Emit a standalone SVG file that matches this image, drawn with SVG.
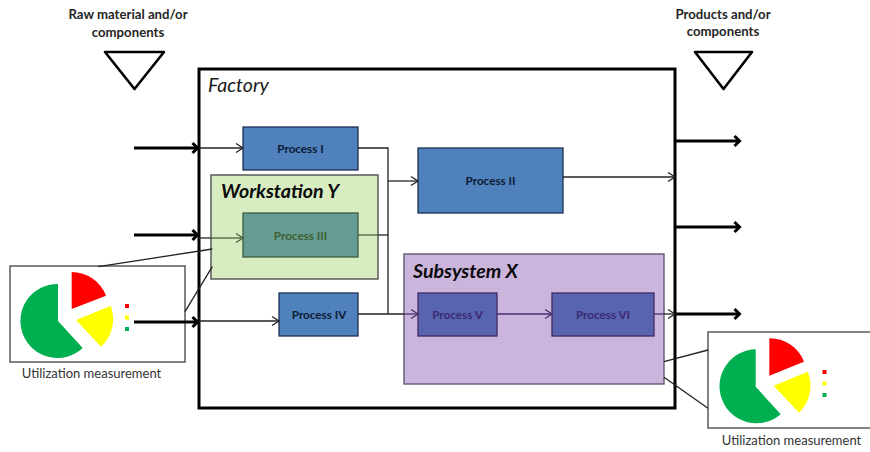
<svg xmlns="http://www.w3.org/2000/svg" width="870" height="452" viewBox="0 0 870 452">
<style>
text{font-family:Lato,"Liberation Sans",sans-serif;text-anchor:middle}
.proc{font-size:11.7px;font-weight:700;fill:#0d1b33}
.title{font-size:19.6px;font-weight:700;font-style:italic;fill:#0a0a0a;text-anchor:start}
.head{font-size:13.2px;font-weight:700;fill:#262626}
.cap{font-size:13px;fill:#333}
.box{fill:#4f81bd;stroke:#1c2f4f;stroke-width:1.3}
.box2{fill:#5964b0;stroke:#3c2a66;stroke-width:1.3}
.frame{fill:#fff;stroke:#404040;stroke-width:1.3}
.thin{fill:none;stroke:#222;stroke-width:1.3}
.olive{fill:none;stroke:#4a6240;stroke-width:1.3}
.plum{fill:none;stroke:#4a2f6b;stroke-width:1.3}
.thick{fill:none;stroke:#000;stroke-width:3}
.tri{fill:#fff;stroke:#000;stroke-width:2.6;stroke-linejoin:round}
</style>
<defs>
<marker id="a" markerUnits="userSpaceOnUse" markerWidth="12" markerHeight="12" refX="10" refY="6" orient="auto"><path d="M3 1.500 10 6 3 10.500" fill="none" stroke="#222" stroke-width="1.300"/></marker>
<marker id="ao" markerUnits="userSpaceOnUse" markerWidth="12" markerHeight="12" refX="10" refY="6" orient="auto"><path d="M3 1.500 10 6 3 10.500" fill="none" stroke="#4a6240" stroke-width="1.300"/></marker>
<marker id="ap" markerUnits="userSpaceOnUse" markerWidth="12" markerHeight="12" refX="10" refY="6" orient="auto"><path d="M3 1.500 10 6 3 10.500" fill="none" stroke="#4a2f6b" stroke-width="1.300"/></marker>
<marker id="t" markerUnits="userSpaceOnUse" markerWidth="14" markerHeight="16" refX="12" refY="8" orient="auto"><path d="M6.500 3 11.500 8 6.500 13" fill="none" stroke="#000" stroke-width="3"/></marker>
</defs>
<rect width="870" height="452" fill="#fff"/>
<g id="raw-material">
<text class="head" x="128" y="19">Raw material and/or</text>
<text class="head" x="128" y="37">components</text>
<path class="tri" d="M105 52H164L134.500 89Z"/>
</g>
<g id="products">
<text class="head" x="723" y="19">Products and/or</text>
<text class="head" x="723" y="36">components</text>
<path class="tri" d="M695 52H752L723.500 89Z"/>
</g>
<g id="factory">
<rect x="199" y="69" width="476" height="339" fill="#fff" stroke="#000" stroke-width="3"/>
<text x="208" y="92" font-size="19.500" font-style="italic" fill="#1a1a1a" style="text-anchor:start">Factory</text>
</g>
<g id="process-1">
<rect class="box" x="243" y="127" width="115" height="43"/>
<text class="proc" x="300.500" y="153">Process I</text>
</g>
<g id="workstation-y">
<rect x="211" y="175" width="167" height="104" fill="#d8ecc1" stroke="#4f4f4f" stroke-width="1.400"/>
<text class="title" x="221" y="198">Workstation Y</text>
</g>
<g id="process-3">
<rect x="243" y="213" width="115" height="44" fill="#659c93" stroke="#3e5c40" stroke-width="1.300"/>
<text class="proc" x="300.500" y="240" style="fill:#3f5f2f">Process III</text>
</g>
<g id="process-4">
<rect class="box" x="279" y="293" width="79" height="43"/>
<text class="proc" x="319" y="319">Process IV</text>
</g>
<g id="process-2">
<rect class="box" x="418" y="148" width="145" height="65"/>
<text class="proc" x="490.500" y="185">Process II</text>
</g>
<g id="subsystem-x">
<rect x="404" y="254" width="260" height="130" fill="#ccb5dd" stroke="#5f5a72" stroke-width="1.400"/>
<text class="title" x="413" y="278">Subsystem X</text>
</g>
<g id="process-5">
<rect class="box2" x="418" y="293" width="79" height="43"/>
<text class="proc" x="457.500" y="319" style="fill:#3a2a72">Process V</text>
</g>
<g id="process-6">
<rect class="box2" x="552" y="293" width="102" height="43"/>
<text class="proc" x="603" y="319" style="fill:#3a2a72">Process VI</text>
</g>
<g id="utilization-left">
<rect class="frame" x="10" y="266" width="175" height="96"/>
<path fill="#00b050" d="M58 321V284A37 37 0 1 0 82.700 348Z"/>
<path fill="#f00" d="M71.700 309V272A37 37 0 0 1 106 295.700Z"/>
<path fill="#ff0" d="M76 320 110.700 306A37 37 0 0 1 101 346.700Z"/>
<rect x="125" y="304" width="4" height="4" fill="#f00"/>
<rect x="125" y="315.500" width="4" height="4" fill="#ff0"/>
<rect x="125" y="327" width="4" height="4" fill="#00b050"/>
<text class="cap" x="91.500" y="378">Utilization measurement</text>
</g>
<g id="utilization-right">
<rect class="frame" x="708" y="332" width="164" height="96"/>
<path fill="#00b050" d="M755.700 386.700V349.300A37 37 0 1 0 780.700 414.300Z"/>
<path fill="#f00" d="M769.300 375.700V338.300A37 37 0 0 1 804 361.700Z"/>
<path fill="#ff0" d="M773.700 385.700 807.700 371.700A37 37 0 0 1 799 412.700Z"/>
<rect x="822.500" y="370" width="4" height="4" fill="#f00"/>
<rect x="822.500" y="381.500" width="4" height="4" fill="#ff0"/>
<rect x="822.500" y="393" width="4" height="4" fill="#00b050"/>
<text class="cap" x="791.500" y="445">Utilization measurement</text>
</g>
<g id="connectors">
<path class="thick" marker-end="url(#t)" d="M134 148H198"/>
<path class="thick" marker-end="url(#t)" d="M134 235H198"/>
<path class="thick" marker-end="url(#t)" d="M134 322H198"/>
<path class="thick" marker-end="url(#t)" d="M675 141H740"/>
<path class="thick" marker-end="url(#t)" d="M675 227H740"/>
<path class="thick" marker-end="url(#t)" d="M675 314H740"/>
<path class="thin" marker-end="url(#a)" d="M199 148H243"/>
<path class="thin" d="M199 238H211"/>
<path class="olive" marker-end="url(#ao)" d="M211 238H243"/>
<path class="thin" marker-end="url(#a)" d="M199 321H279"/>
<path class="thin" d="M358 148H388V314"/>
<path class="thin" marker-end="url(#a)" d="M388 181H418"/>
<path class="olive" d="M358 235H378"/>
<path class="thin" d="M378 235H388"/>
<path class="thin" d="M358 314H404"/>
<path class="plum" marker-end="url(#ap)" d="M404 314H418"/>
<path class="plum" marker-end="url(#ap)" d="M497 314H552"/>
<path class="plum" d="M654 314H664"/>
<path class="thin" marker-end="url(#a)" d="M664 314H675"/>
<path class="thin" marker-end="url(#a)" d="M563 177H675"/>
<path class="thin" d="M98.300 266.700 212.300 249"/>
<path class="thin" d="M185 311.700 212.300 266.700"/>
<path class="thin" d="M664 361.700 708 350"/>
<path class="thin" d="M664 377.300 708 408.300"/>
</g>
</svg>
